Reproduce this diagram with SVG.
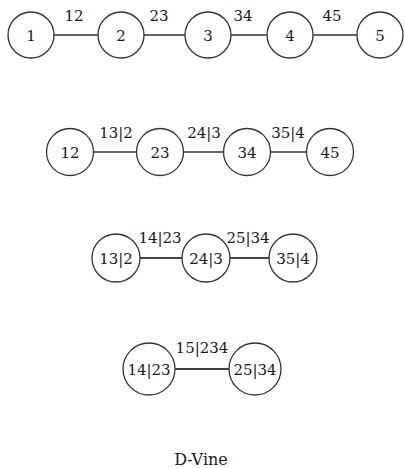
<svg xmlns="http://www.w3.org/2000/svg" width="405" height="468" viewBox="0 0 405 468">
<style>
text{font-family:'DejaVu Serif','Liberation Serif',serif;font-size:15px;fill:#1a1a1a;text-anchor:middle}
circle{fill:#fff;stroke:#333;stroke-width:1.3}
.e{stroke:#333;stroke-width:1.4}
.e2{stroke:#444;stroke-width:2.2}
</style>
<rect width="405" height="468" fill="#fff"/>
<g id="connectors">
<line class="e" x1="54" y1="35" x2="98" y2="35"/>
<line class="e" x1="144" y1="35" x2="185" y2="35"/>
<line class="e" x1="231" y1="35" x2="267" y2="35"/>
<line class="e" x1="313" y1="35" x2="357" y2="35"/>
<line class="e" x1="93.5" y1="152" x2="136.5" y2="152"/>
<line class="e" x1="183.5" y1="152" x2="223.5" y2="152"/>
<line class="e" x1="270.5" y1="152" x2="306.5" y2="152"/>
<line class="e2" x1="140" y1="258" x2="182" y2="258"/>
<line class="e2" x1="230" y1="258" x2="269" y2="258"/>
<line class="e2" x1="175" y1="369" x2="229" y2="369"/>
<text x="74" y="21">12</text>
<text x="159" y="21">23</text>
<text x="243" y="21">34</text>
<text x="332" y="21">45</text>
<text x="116" y="138">13|2</text>
<text x="204" y="138">24|3</text>
<text x="288" y="138">35|4</text>
<text x="160" y="243">14|23</text>
<text x="248" y="243">25|34</text>
<text x="202" y="353">15|234</text>
</g>
<g id="n1"><circle cx="31" cy="35" r="23"/><text x="31" y="41">1</text></g>
<g id="n2"><circle cx="121" cy="35" r="23"/><text x="121" y="41">2</text></g>
<g id="n3"><circle cx="208" cy="35" r="23"/><text x="208" y="41">3</text></g>
<g id="n4"><circle cx="290" cy="35" r="23"/><text x="290" y="41">4</text></g>
<g id="n5"><circle cx="380" cy="35" r="23"/><text x="380" y="41">5</text></g>
<g id="n12"><circle cx="70" cy="152" r="23.5"/><text x="70" y="158">12</text></g>
<g id="n23"><circle cx="160" cy="152" r="23.5"/><text x="160" y="158">23</text></g>
<g id="n34"><circle cx="247" cy="152" r="23.5"/><text x="247" y="158">34</text></g>
<g id="n45"><circle cx="330" cy="152" r="23.5"/><text x="330" y="158">45</text></g>
<g id="n13_2"><circle cx="116" cy="258" r="24"/><text x="116" y="264">13|2</text></g>
<g id="n24_3"><circle cx="206" cy="258" r="24"/><text x="206" y="264">24|3</text></g>
<g id="n35_4"><circle cx="293" cy="258" r="24"/><text x="293" y="264">35|4</text></g>
<g id="n14_23"><circle cx="149" cy="369" r="26"/><text x="149" y="375">14|23</text></g>
<g id="n25_34"><circle cx="255" cy="369" r="26"/><text x="255" y="375">25|34</text></g>
<text x="201" y="465" style="font-size:16px">D-Vine</text>
</svg>
